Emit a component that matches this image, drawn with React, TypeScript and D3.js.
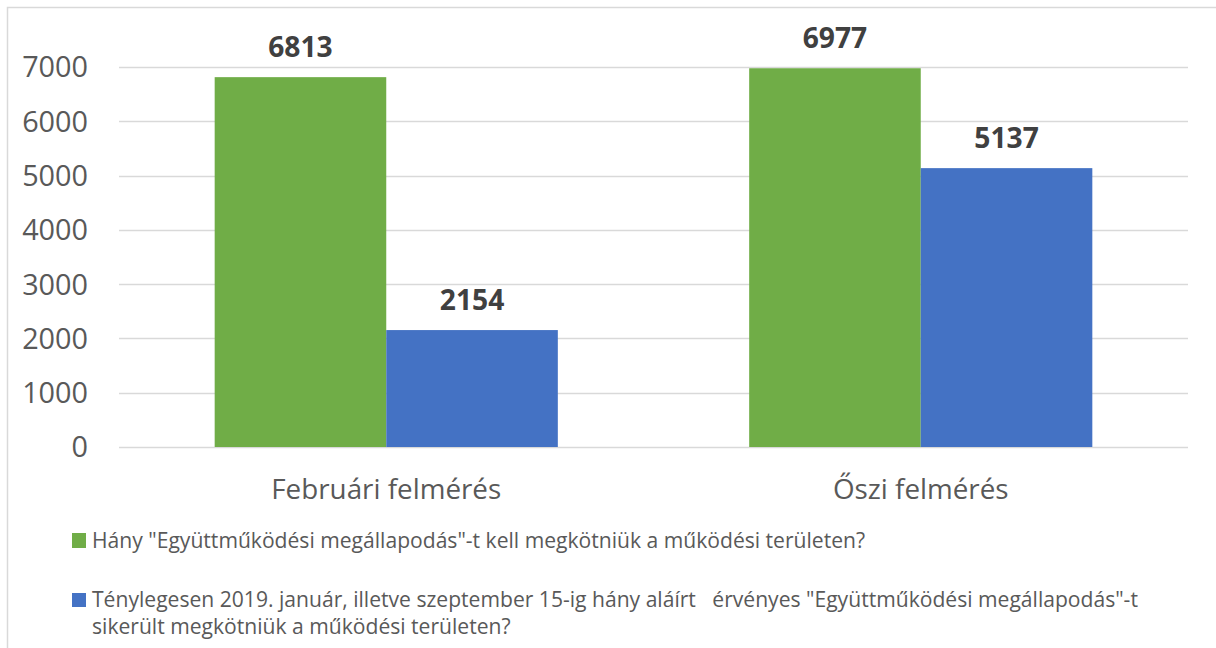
import React from "react";
import * as d3 from "d3";

const categories = ["Februári felmérés", "Őszi felmérés"];
const seriesNames = [
  "Hány \"Együttműködési megállapodás\"-t kell megkötniük a működési területen?",
  "Ténylegesen 2019. január, illetve szeptember 15-ig hány aláírt   érvényes \"Együttműködési megállapodás\"-t",
];
const seriesName2Line2 = "sikerült megkötniük a működési területen?";
const series1 = [6813, 6977];
const series2 = [2154, 5137];
const yTicks = [0, 1000, 2000, 3000, 4000, 5000, 6000, 7000];
const colors = ["#70AD47", "#4472C4"];

export default function App() {
  const W = 1216, H = 648;
  const y = d3.scaleLinear().domain([0, 7000]).range([447, 67]);
  const x0 = d3.scaleBand<string>().domain(categories).range([119, 1188]).paddingInner(0.358).paddingOuter(0.179);
  const x1 = d3.scaleBand<number>().domain([0, 1]).range([0, x0.bandwidth()]).padding(0);
  const values = [series1, series2];
  const font = "'Open Sans', sans-serif";
  return (
    <svg width={W} height={H} style={{ position: "absolute", left: 0, top: 0, background: "#fff" }} fontFamily={font}>
      <rect x={0} y={0} width={W} height={H} fill="#fff" />
      <rect x={7.5} y={7.5} width={W + 20} height={H + 20} fill="none" stroke="#d9d9d9" strokeWidth={1.5} />
      {yTicks.map((t) => (
        <g key={t}>
          <line x1={119} x2={1188} y1={Math.round(y(t)) + 0.5} y2={Math.round(y(t)) + 0.5} stroke="#d9d9d9" strokeWidth={1.5} />
          <text x={88} y={y(t)} dy="0.36em" textAnchor="end" fontSize={28.8} fill="#595959">{t}</text>
        </g>
      ))}
      {categories.map((c, i) => (
        <g key={c}>
          {values.map((s, j) => {
            const bx = (x0(c) as number) + (x1(j) as number);
            const bw = x1.bandwidth();
            return (
              <g key={j}>
                <rect x={bx} y={y(s[i])} width={bw} height={y(0) - y(s[i])} fill={colors[j]} />
                <text x={bx + bw / 2} y={y(s[i]) - 20} textAnchor="middle" fontSize={28.2} fontWeight="bold" fill="#404040">{s[i]}</text>
              </g>
            );
          })}
          <text x={(x0(c) as number) + x0.bandwidth() / 2} y={499} textAnchor="middle" fontSize={27.8} fill="#595959">{c}</text>
        </g>
      ))}
      <rect x={72} y={533} width={14} height={15} fill={colors[0]} />
      <text x={92} y={548} fontSize={21.1} fill="#595959" style={{ whiteSpace: "pre" }}>{seriesNames[0]}</text>
      <rect x={72} y={593} width={14} height={14} fill={colors[1]} />
      <text x={92} y={607} fontSize={21.1} fill="#595959" style={{ whiteSpace: "pre" }}>{seriesNames[1]}</text>
      <text x={92} y={634} fontSize={21.1} fill="#595959">{seriesName2Line2}</text>
    </svg>
  );
}
